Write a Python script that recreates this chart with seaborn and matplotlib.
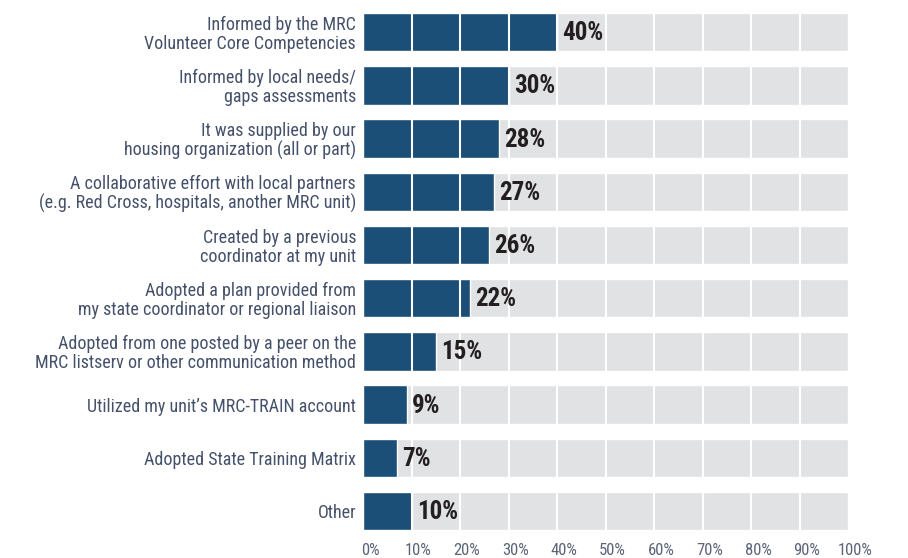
import matplotlib
matplotlib.use("Agg")
import matplotlib.pyplot as plt
import matplotlib.transforms as mtransforms
import seaborn as sns
import pandas as pd

categories = [
    "Informed by the MRC\nVolunteer Core Competencies",
    "Informed by local needs/\ngaps assessments",
    "It was supplied by our\nhousing organization (all or part)",
    "A collaborative effort with local partners\n(e.g. Red Cross, hospitals, another MRC unit)",
    "Created by a previous\ncoordinator at my unit",
    "Adopted a plan provided from\nmy state coordinator or regional liaison",
    "Adopted from one posted by a peer on the\nMRC listserv or other communication method",
    "Utilized my unit\u2019s MRC-TRAIN account",
    "Adopted State Training Matrix",
    "Other",
]
values = [40, 30, 28, 27, 26, 22, 15, 9, 7, 10]
tick_values = [0, 10, 20, 30, 40, 50, 60, 70, 80, 90, 100]
tick_labels = [f"{t}%" for t in tick_values]

sns.set_theme(style="white")
plt.rcParams["font.family"] = ["Roboto Condensed", "DejaVu Sans"]

df = pd.DataFrame({"category": categories, "value": values, "full": [100] * len(values)})

fig = plt.figure(figsize=(9.08, 5.58), dpi=100)
ax = fig.add_axes([0.3998, 0.0366, 0.5344, 0.9534])

# light track behind each bar, then the actual share on top
sns.barplot(data=df, y="category", x="full", color="#e1e2e4", width=0.72,
            saturation=1, ax=ax, zorder=1)
sns.barplot(data=df, y="category", x="value", color="#1b4f78", width=0.72,
            saturation=1, ax=ax, zorder=2)

for g in tick_values[1:-1]:
    ax.axvline(g, color="white", lw=1.5, zorder=3)

for i, v in enumerate(values):
    ax.text(v + 1.1, i + 0.02, f"{v}%", va="center", ha="left", fontsize=18,
            fontweight="bold", color="#231f20", zorder=4)

ax.set_xlim(0, 100)
ax.set_ylim(len(values) - 0.5, -0.5)
ax.set_xticks(tick_values)
ax.set_xticklabels(tick_labels, fontsize=12, color="#5b6577")
ax.set_yticks(range(len(categories)))
ax.set_yticklabels(categories, fontsize=13, color="#45516a", linespacing=1.05)
ax.tick_params(axis="y", length=0, pad=5)
ax.tick_params(axis="x", length=0, pad=4)
ax.set_xlabel("")
ax.set_ylabel("")
for s in ax.spines.values():
    s.set_visible(False)

# nudge the percentage ticks slightly right of their gridlines
shift = mtransforms.ScaledTranslation(7 / 100, 0, fig.dpi_scale_trans)
for lbl in ax.get_xticklabels():
    lbl.set_transform(lbl.get_transform() + shift)

fig.savefig("out.png", dpi=100)
